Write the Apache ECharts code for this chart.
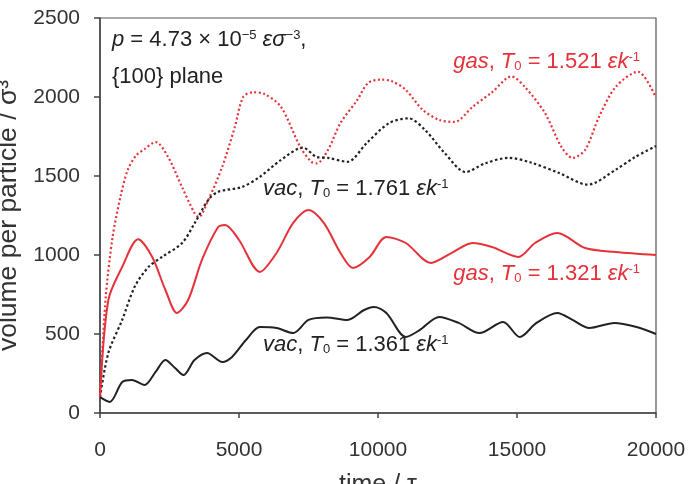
<!DOCTYPE html>
<html>
<head>
<meta charset="utf-8">
<script src="https://cdn.jsdelivr.net/npm/echarts@6/dist/echarts.min.js"></script>
<style>
  html, body { margin: 0; padding: 0; background: #fff; }
  #chart { width: 696px; height: 484px; }
</style>
</head>
<body>
<div id="chart"></div>
<script>
// gas, T0 = 1.521 (red dotted)
const gasHiT = [0, 200, 450, 750, 1000, 1300, 1600, 2000, 2450, 2950, 3400, 3550, 3900, 4400, 4850, 5150, 5500, 5900, 6500, 7200, 7600, 7800, 8200, 8650, 9250, 9650, 10100, 10500, 11000, 11600, 12200, 12750, 13400, 14100, 14800, 15300, 16000, 16600, 17000, 17450, 17950, 18550, 19350, 20000]
const gasHiV = [100, 720, 1110, 1380, 1540, 1630, 1670, 1715, 1620, 1430, 1265, 1240, 1350, 1560, 1810, 2000, 2030, 2020, 1940, 1685, 1590, 1580, 1665, 1835, 1980, 2090, 2110, 2100, 2045, 1920, 1855, 1842, 1937, 2030, 2130, 2060, 1900, 1684, 1614, 1665, 1874, 2064, 2160, 1995]

// vac, T0 = 1.761 (black dotted)
const vacHiT = [0, 300, 800, 1250, 1750, 2250, 2950, 3400, 3900, 4250, 5100, 5750, 6500, 7300, 7800, 8200, 8900, 9600, 10400, 11100, 11700, 12400, 13150, 13850, 14700, 15500, 16500, 17550, 18550, 19250, 20000]
const vacHiV = [100, 380, 590, 800, 925, 990, 1075, 1200, 1350, 1400, 1430, 1495, 1600, 1680, 1620, 1615, 1590, 1710, 1835, 1865, 1790, 1645, 1525, 1580, 1615, 1585, 1520, 1445, 1540, 1620, 1690]

// gas, T0 = 1.321 (red solid)
const gasLoT = [0, 300, 800, 1370, 1870, 2350, 2770, 3170, 3670, 4250, 4500, 5000, 5750, 6350, 6950, 7500, 8050, 8650, 9100, 9700, 10300, 11000, 11900, 12650, 13400, 14100, 15050, 15650, 16450, 17450, 18550, 20000]
const gasLoV = [100, 715, 925, 1100, 990, 780, 633, 715, 970, 1177, 1190, 1095, 893, 1013, 1203, 1285, 1203, 1013, 918, 988, 1114, 1076, 950, 1013, 1076, 1051, 988, 1076, 1139, 1044, 1019, 1000]

// vac, T0 = 1.361 (black solid)
const vacLoT = [0, 350, 800, 1150, 1600, 2000, 2350, 2700, 3000, 3400, 3850, 4400, 4750, 5250, 5750, 6350, 6950, 7500, 8150, 8900, 9500, 9850, 10300, 11000, 11500, 12200, 12900, 13650, 14500, 15100, 15700, 16450, 17000, 17600, 18500, 19300, 20000]
const vacLoV = [100, 70, 196, 209, 177, 260, 335, 285, 240, 335, 380, 323, 355, 462, 544, 538, 506, 589, 605, 589, 652, 671, 633, 481, 525, 608, 570, 506, 576, 481, 570, 633, 589, 538, 570, 544, 500]

const red = '#e5323a'
const black = '#222'
const font = 'Liberation Sans, Arial, sans-serif'
const fs = 22

function pairs (ts, vs) {
  return ts.map((t, i) => [t, vs[i]])
}

function richStyles (color) {
  return {
    i: { fontStyle: 'italic', fontSize: fs, fontFamily: font, fill: color },
    n: { fontSize: fs, fontFamily: font, fill: color },
    sup: { fontSize: 13, fontFamily: font, fill: color, verticalAlign: 'top' },
    sub: { fontSize: 13, fontFamily: font, fill: color, verticalAlign: 'bottom' }
  }
}

function label (x, y, text, color, align, plain) {
  return {
    type: 'text',
    left: align === 'right' ? null : x,
    right: align === 'right' ? x : null,
    top: y,
    z: 10,
    style: {
      text: text,
      fill: color,
      font: fs + 'px ' + font,
      rich: plain ? undefined : richStyles(color)
    }
  }
}

function tLabel (name, value) {
  return '{i|' + name + '}{n|, }{i|T}{sub|0}{n| = ' + value + ' }{i|εk}{sup|-1}'
}

let myChart = echarts.init(document.getElementById('chart'))
myChart.setOption({
  animation: false,
  grid: {
    left: 100,
    right: 40,
    top: 18,
    bottom: 71,
    containLabel: false,
    outerBoundsMode: 'none',
    show: true,
    borderColor: '#555',
    borderWidth: 1.2,
    backgroundColor: 'transparent'
  },
  xAxis: {
    type: 'value',
    min: 0,
    max: 20000,
    interval: 5000,
    name: 'time / τ',
    nameLocation: 'middle',
    nameGap: 60,
    nameTextStyle: { fontSize: 25, fontFamily: font, color: '#333' },
    axisLine: { show: true, lineStyle: { color: '#444', width: 1.5 } },
    axisTick: { show: true, inside: false, length: 5, lineStyle: { color: '#444', width: 1.5 } },
    axisLabel: { fontSize: 21, fontFamily: font, color: '#333', margin: 27, formatter: v => String(v) },
    splitLine: { show: false }
  },
  yAxis: {
    type: 'value',
    min: 0,
    max: 2500,
    interval: 500,
    name: 'volume per particle / σ³',
    nameLocation: 'middle',
    nameGap: 70,
    nameTextStyle: { fontSize: 26.5, fontFamily: font, color: '#333' },
    axisLine: { show: true, lineStyle: { color: '#444', width: 1.5 } },
    axisTick: { show: true, inside: false, length: 6, lineStyle: { color: '#444', width: 1.5 } },
    axisLabel: { fontSize: 21, fontFamily: font, color: '#333', margin: 20, formatter: v => String(v) },
    splitLine: { show: false }
  },
  series: [
    {
      name: 'gas 1.521',
      type: 'line',
      smooth: 0.3,
      showSymbol: false,
      data: pairs(gasHiT, gasHiV),
      lineStyle: { color: red, width: 2.2, type: [2, 2.5] }
    },
    {
      name: 'vac 1.761',
      type: 'line',
      smooth: 0.3,
      showSymbol: false,
      data: pairs(vacHiT, vacHiV),
      lineStyle: { color: black, width: 2.2, type: [2.5, 2.5] }
    },
    {
      name: 'gas 1.321',
      type: 'line',
      smooth: 0.3,
      showSymbol: false,
      data: pairs(gasLoT, gasLoV),
      lineStyle: { color: red, width: 2 }
    },
    {
      name: 'vac 1.361',
      type: 'line',
      smooth: 0.3,
      showSymbol: false,
      data: pairs(vacLoT, vacLoV),
      lineStyle: { color: black, width: 2 }
    }
  ],
  graphic: [
    label(112, 29, '{i|p}{n| = 4.73 × 10}{sup|−5}{n| }{i|εσ}{sup|−3}{n|,}', black),
    label(112, 66, '{100} plane', black, 'left', true),
    label(56, 51, tLabel('gas', '1.521'), red, 'right'),
    label(263, 178, tLabel('vac', '1.761'), black),
    label(56, 263, tLabel('gas', '1.321'), red, 'right'),
    label(263, 334, tLabel('vac', '1.361'), black)
  ]
})
</script>
</body>
</html>
